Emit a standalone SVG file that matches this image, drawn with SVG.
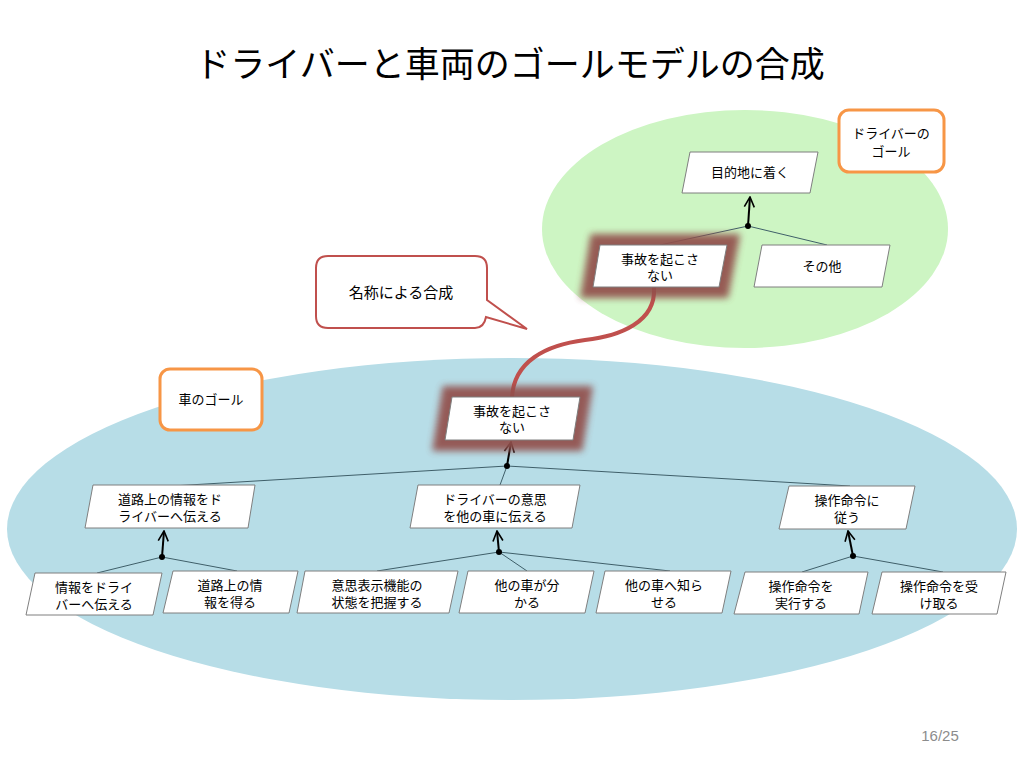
<svg xmlns="http://www.w3.org/2000/svg" width="1024" height="768" viewBox="0 0 1024 768">
<defs>
<style>
text{font-family:"Liberation Sans","Noto Sans CJK JP",sans-serif;fill:#000;text-anchor:middle}
.t{font-size:13px}
.node{fill:#fff;stroke:#7f7f7f;stroke-width:1}
.glow{fill:none;stroke:#92504B;stroke-width:22;stroke-linejoin:miter;filter:url(#blur);opacity:0.92}
.tag{fill:#fff;stroke:#F79646;stroke-width:3}
.ln{stroke:#3f5f69;stroke-width:1;fill:none}
.arr{stroke:#000;stroke-width:2;fill:none;marker-end:url(#open)}
.dot{fill:#000}
</style>
<filter id="blur" x="-30%" y="-60%" width="160%" height="220%"><feGaussianBlur stdDeviation="3.5"/></filter>
<marker id="open" viewBox="0 0 12 12" refX="11" refY="6" markerWidth="12" markerHeight="12" markerUnits="userSpaceOnUse" orient="auto">
<path d="M1,1 L11,6 L1,11" fill="none" stroke="#000" stroke-width="1.6"/>
</marker>
</defs>
<rect width="1024" height="768" fill="#fff"/>
<text x="510" y="77" style="font-size:35px">ドライバーと車両のゴールモデルの合成</text>

<ellipse cx="745" cy="229" rx="203" ry="119" fill="#CDF5C3"/>
<ellipse cx="512" cy="529" rx="505" ry="171" fill="#B7DDE7"/>

<g id="tag-driver"><rect class="tag" x="839" y="110" width="105" height="62" rx="10"/><text class="t" x="891" y="138">ドライバーの</text><text class="t" x="891" y="156">ゴール</text></g>
<g id="tag-car"><rect class="tag" x="160" y="369" width="102" height="61" rx="10"/><text class="t" x="211" y="404">車のゴール</text></g>

<g id="callout"><path d="M328,256 H475 Q487,256 487,268 V300 L527,329 L486,317 Q484,328 475,328 H328 Q316,328 316,316 V268 Q316,256 328,256 Z" fill="#fff" stroke="#C0504D" stroke-width="2"/><text x="401" y="298" style="font-size:15px">名称による合成</text></g>

<g id="connectors">
<path d="M654,288 C656,322 620,336 585,340 C545,345 514,362 512,397" fill="none" stroke="#C0504D" stroke-width="4" stroke-linecap="round"/>
<path class="ln" d="M748,226 L660,245 M748,226 L827,245"/>
<path class="arr" d="M748,226 L750,197"/><circle class="dot" cx="748" cy="226" r="3"/>
<path class="ln" d="M507,466 L172,486 M507,466 L500,485 M507,466 L850,486"/>
<path class="arr" d="M507,466 L511,442"/><circle class="dot" cx="507" cy="466" r="3"/>
<path class="ln" d="M162,557 L97,573 M162,557 L237,571"/>
<path class="arr" d="M162,557 L164,531"/><circle class="dot" cx="162" cy="557" r="3"/>
<path class="ln" d="M499,552 L377,571 M499,552 L527,571 M499,552 L670,571"/>
<path class="arr" d="M499,552 L497,531"/><circle class="dot" cx="499" cy="552" r="3"/>
<path class="ln" d="M853,556 L802,572 M853,556 L943,572"/>
<path class="arr" d="M853,556 L848,531"/><circle class="dot" cx="853" cy="556" r="3"/>
</g>

<g id="n-goal"><polygon class="node" points="690,152 818,152 810,193 682,193"/><text class="t" x="750" y="177">目的地に着く</text></g>
<g id="n-other"><polygon class="node" points="762,245 890,245 882,287 754,287"/><text class="t" x="822" y="271">その他</text></g>
<g id="n-noacc-top"><polygon class="glow" points="600,245 727,245 719,287 593,287"/><polygon class="node" points="600,245 727,245 719,287 593,287"/><text class="t" x="660" y="264">事故を起こさ</text><text class="t" x="660" y="280">ない</text></g>
<g id="n-noacc-car"><polygon class="glow" points="452,397 580,397 573,440 445,440"/><polygon class="node" points="452,397 580,397 573,440 445,440"/><text class="t" x="512" y="416">事故を起こさ</text><text class="t" x="512" y="432">ない</text></g>

<g id="n-road"><polygon class="node" points="93,485 255,485 248,528 85,528"/><text class="t" x="170" y="504">道路上の情報をド</text><text class="t" x="170" y="521">ライバーへ伝える</text></g>
<g id="n-intent"><polygon class="node" points="418,485 580,485 572,528 410,528"/><text class="t" x="495" y="504">ドライバーの意思</text><text class="t" x="495" y="521">を他の車に伝える</text></g>
<g id="n-cmd"><polygon class="node" points="789,486 915,486 906,529 779,529"/><text class="t" x="847" y="505">操作命令に</text><text class="t" x="847" y="522">従う</text></g>

<g id="n-info"><polygon class="node" points="35,573 162,573 153,615 26,615"/><text class="t" x="94" y="592">情報をドライ</text><text class="t" x="94" y="609">バーへ伝える</text></g>
<g id="n-get"><polygon class="node" points="173,571 298,571 289,613 163,613"/><text class="t" x="230" y="590">道路上の情</text><text class="t" x="230" y="607">報を得る</text></g>
<g id="n-state"><polygon class="node" points="305,571 458,571 449,613 297,613"/><text class="t" x="377" y="590">意思表示機能の</text><text class="t" x="377" y="607">状態を把握する</text></g>
<g id="n-know"><polygon class="node" points="468,571 594,571 585,613 459,613"/><text class="t" x="527" y="590">他の車が分</text><text class="t" x="527" y="607">かる</text></g>
<g id="n-notify"><polygon class="node" points="605,571 731,571 722,613 596,613"/><text class="t" x="664" y="590">他の車へ知ら</text><text class="t" x="664" y="607">せる</text></g>
<g id="n-exec"><polygon class="node" points="745,572 868,572 859,614 734,614"/><text class="t" x="801" y="591">操作命令を</text><text class="t" x="801" y="608">実行する</text></g>
<g id="n-recv"><polygon class="node" points="882,572 1006,572 997,614 872,614"/><text class="t" x="939" y="591">操作命令を受</text><text class="t" x="939" y="608">け取る</text></g>

<text x="940" y="741" style="font-size:15px;fill:#8C8C8C">16/25</text>
</svg>
